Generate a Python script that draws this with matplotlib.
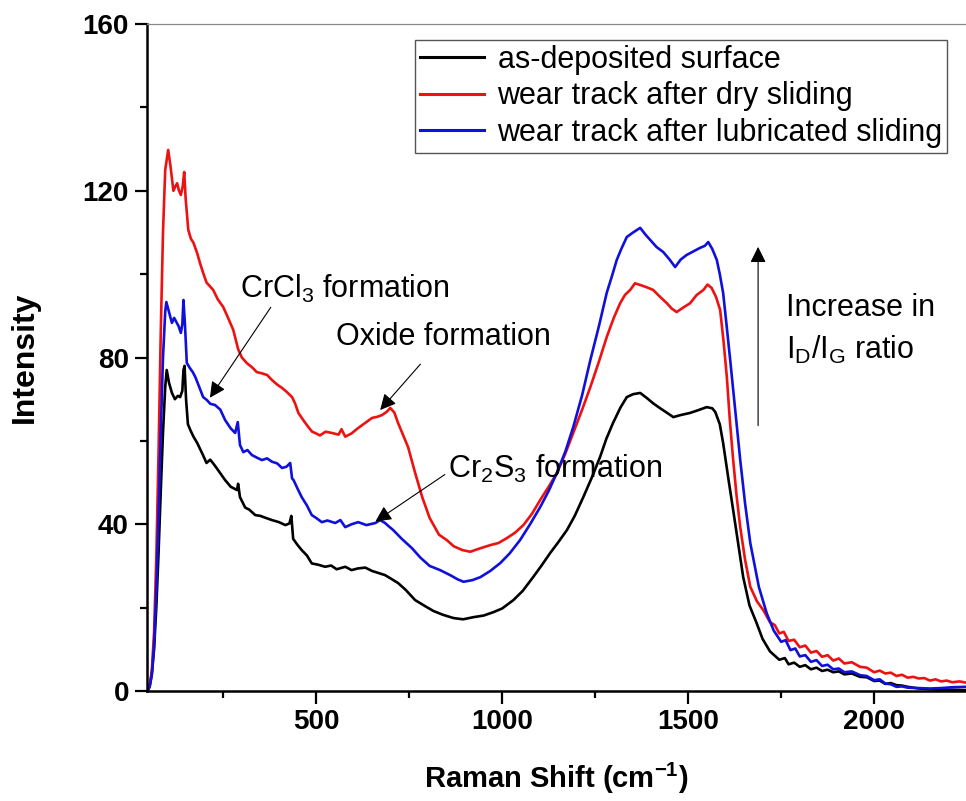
import numpy as np
import matplotlib
matplotlib.use("Agg")
import matplotlib.pyplot as plt
from matplotlib.ticker import MultipleLocator

plt.rcParams['font.family'] = ['Liberation Sans', 'DejaVu Sans']
plt.rcParams['mathtext.default'] = 'regular'

# as-deposited surface
x_dep = [46, 52, 58, 64, 70, 76, 82, 88, 94, 98, 104, 112, 120, 128, 134, 140, 143, 146, 150, 155,
         162, 170, 180, 188, 196, 205, 215, 228, 240, 255, 270, 287, 290, 295, 309, 320, 336, 350, 365, 381,
         400, 417, 428, 433, 438, 450, 461, 475, 488, 505, 524, 540, 555, 578, 595, 612, 632, 650, 668, 685,
         700, 720, 740, 766, 790, 815, 840, 869, 895, 922, 950, 976, 1000, 1030, 1055, 1083, 1105, 1129, 1150, 1174,
         1195, 1218, 1240, 1263, 1280, 1298, 1318, 1335, 1352, 1371, 1390, 1406, 1425, 1442, 1460, 1480, 1505, 1525, 1550, 1565,
         1573, 1585, 1594, 1608, 1621, 1635, 1648, 1665, 1684, 1700, 1720, 1745, 1760, 1770, 1785, 1800, 1815, 1830, 1845, 1860,
         1875, 1890, 1905, 1920, 1940, 1962, 1980, 2000, 2015, 2030, 2045, 2060, 2075, 2090, 2120, 2150, 2180, 2210, 2247]
y_dep = [0, 1, 4, 10, 20, 33, 48, 62, 73, 77, 74, 71.5, 70, 70.8, 70.5, 72, 77, 78, 70, 64,
         62.5, 61, 59.5, 58, 56.5, 54.7, 55.5, 54, 52.5, 50.6, 49, 48.2, 49.7, 46.5, 44, 43.5, 42.2, 42, 41.5, 41,
         40.5, 39.8, 40.2, 42, 36.5, 35, 33.8, 32.5, 30.6, 30.3, 29.8, 30.1, 29.2, 29.8, 29, 29.4, 29.6, 28.8, 28.3, 27.8,
         27, 25.9, 24.3, 21.8, 20.5, 19.2, 18.3, 17.5, 17.2, 17.7, 18.1, 18.9, 19.8, 21.8, 24, 27.3, 30, 33.1, 35.6, 38.6,
         42, 46.5, 51, 56.1, 60.5, 64.3, 68, 70.5, 71.2, 71.5, 70.2, 69, 67.8, 66.8, 65.7, 66.2, 66.7, 67.3, 68.1, 67.8,
         66.9, 64, 59.5, 51, 43.4, 35, 27.3, 20.5, 16.3, 12.5, 9.5, 7.5, 7.9, 6.4, 6.8, 5.8, 6.2, 5.2, 5.6, 4.8,
         5.1, 4.5, 4.7, 4, 4.2, 3.4, 3.3, 2.4, 2.5, 1.7, 1.9, 1.4, 1.3, 1, 0.6, 0.4, 0.3, 0.3, 0.2]

# wear track after dry sliding
x_dry = [46, 52, 58, 64, 70, 76, 82, 88, 94, 102, 108, 116, 121, 126, 131, 136, 141, 145, 149, 156,
         163, 170, 180, 188, 196, 205, 215, 223, 235, 250, 263, 277, 290, 300, 314, 327, 340, 354, 368, 381,
         395, 408, 420, 435, 443, 452, 465, 479, 489, 497, 510, 525, 542, 560, 568, 578, 595, 613, 630, 650,
         665, 677, 690, 699, 710, 720, 733, 747, 766, 785, 805, 830, 851, 870, 893, 914, 940, 968, 990, 1013,
         1035, 1057, 1080, 1102, 1125, 1147, 1170, 1191, 1215, 1237, 1260, 1281, 1300, 1317, 1330, 1344, 1357, 1371, 1390, 1406,
         1425, 1443, 1455, 1469, 1487, 1505, 1523, 1541, 1552, 1563, 1575, 1586, 1595, 1604, 1612, 1621, 1630, 1640, 1653, 1667,
         1685, 1702, 1720, 1733, 1745, 1757, 1770, 1785, 1800, 1815, 1830, 1845, 1860, 1875, 1890, 1905, 1920, 1940, 1962, 1980,
         2000, 2015, 2030, 2045, 2060, 2075, 2090, 2105, 2120, 2135, 2150, 2165, 2180, 2195, 2210, 2230, 2247]
y_dry = [0, 1.2, 5, 14, 32, 57, 86, 110, 125, 129.8, 126, 120, 121, 121.8, 120, 119, 121, 124.5, 118, 110.6,
         108.5, 107.5, 105, 102.5, 100.3, 98, 97, 96.2, 94, 92.1, 89.5, 86.6, 82, 80, 78.6, 77.7, 76.5, 76.2, 75.8, 74.6,
         73.5, 72.7, 71.8, 70.5, 69, 66.7, 65, 63.3, 62.2, 61.9, 61.3, 62.2, 61.9, 61.5, 62.8, 61, 61.8, 63.1, 64.2, 65.5,
         65.8, 66.2, 67, 67.9, 66.8, 64.3, 61.5, 58.5, 52.3, 46.5, 41.5, 37.5, 36.2, 34.7, 33.8, 33.4, 34.2, 35, 35.5, 36.7,
         38, 39.8, 42.5, 45.8, 49, 52.3, 57, 61.9, 67.5, 72.9, 79, 84.9, 89.5, 93, 95, 96.2, 97.8, 97.4, 96.8, 96.2,
         94.5, 93, 91.8, 90.9, 92, 93, 95, 96.2, 97.5, 96.7, 94.5, 91.4, 84, 75.3, 65, 55.4, 47, 39.3, 31.5, 25,
         21.5, 19.4, 16.5, 15.8, 13.8, 14.2, 12, 12.3, 10.5, 10.9, 9.2, 9.6, 8.2, 8.6, 7.3, 7.8, 6.6, 6.9, 5.8, 5.6,
         4.5, 4.9, 4.2, 4.4, 3.6, 3.9, 3.2, 3.4, 3.0, 3.1, 2.5, 2.8, 2.3, 2.5, 2.1, 2.3, 2.0]

# wear track after lubricated sliding
x_lub = [46, 52, 58, 64, 70, 76, 82, 88, 94, 97, 104, 112, 118, 125, 130, 136, 140, 143, 147, 152,
         160, 168, 175, 185, 196, 206, 215, 228, 242, 255, 270, 282, 289, 295, 304, 315, 327, 340, 354, 368,
         381, 395, 408, 420, 430, 435, 439, 450, 461, 475, 488, 500, 515, 530, 551, 565, 578, 595, 613, 635,
         659, 672, 685, 695, 707, 730, 757, 780, 805, 833, 860, 880, 896, 920, 941, 968, 995, 1020, 1048, 1075,
         1102, 1125, 1147, 1170, 1191, 1215, 1237, 1260, 1281, 1295, 1308, 1320, 1335, 1352, 1371, 1385, 1398, 1415, 1433, 1450,
         1465, 1480, 1496, 1515, 1532, 1545, 1554, 1565, 1577, 1585, 1594, 1603, 1613, 1627, 1640, 1653, 1667, 1690, 1711, 1730,
         1750, 1762, 1775, 1788, 1800, 1815, 1830, 1845, 1860, 1875, 1890, 1905, 1920, 1940, 1962, 1980, 2000, 2015, 2030, 2045,
         2060, 2075, 2090, 2120, 2150, 2180, 2210, 2247]
y_lub = [0, 1, 4, 11, 24, 42, 62, 80, 91, 93.3, 91, 88.3, 89.5, 88.3, 87.5, 85.9, 88, 93.8, 88, 78.7,
         77.5, 76.5, 75.3, 73, 70.5, 69.8, 68.9, 68.6, 67.5, 65, 63, 61.9, 64.5, 59, 57.3, 57.8, 56.6, 56, 55.4, 55.8,
         55, 54.6, 53.5, 53.8, 54.7, 51, 50.6, 48.5, 46.5, 44.5, 42.2, 41.5, 40.5, 40.9, 40.3, 41, 39.3, 40, 40.5, 39.8,
         40.3, 41, 40.3, 39.5, 38.6, 36.5, 34.3, 32, 30, 29, 27.8, 26.8, 26.2, 26.6, 27.3, 28.8, 30.7, 33, 36.2, 40,
         44.1, 48, 52.3, 57.5, 63.3, 71, 79.4, 87.5, 95.5, 99.5, 103.4, 106, 108.9, 110, 111.1, 109.5, 108.2, 106.5, 105.3, 103.5,
         101.7, 103.5, 104.6, 105.5, 106.3, 106.8, 107.7, 106, 103.4, 100, 95.5, 88, 79.4, 67, 55.4, 45, 35.5, 25, 18.7, 14.5,
         11.8, 12.2, 9.8, 10.2, 8.3, 8.6, 7, 7.4, 6, 6.3, 5.2, 5.4, 4.5, 4.7, 3.8, 3.6, 2.6, 2.8, 1.8, 1.6,
         1.0, 1.1, 0.8, 0.7, 0.6, 0.7, 0.9, 1.0]

series = [
    (x_dep, y_dep, 'black', 'as-deposited surface'),
    (x_dry, y_dry, '#ee1111', 'wear track after dry sliding'),
    (x_lub, y_lub, '#1010dd', 'wear track after lubricated sliding'),
]

fig = plt.figure(figsize=(9.66, 8.01), dpi=100)
ax = fig.add_axes([147 / 966, 110 / 801, 819 / 966, 667 / 801])

for xs, ys, c, lab in series:
    ax.plot(xs, ys, color=c, lw=1.9, label=lab)

ax.set_xlim(45, 2247)
ax.set_ylim(0, 160)
ax.xaxis.set_major_locator(MultipleLocator(500))
ax.xaxis.set_minor_locator(MultipleLocator(250))
ax.yaxis.set_major_locator(MultipleLocator(40))
ax.yaxis.set_minor_locator(MultipleLocator(20))

ax.spines['right'].set_visible(False)
ax.spines['top'].set_color('#888888')
ax.spines['top'].set_linewidth(0.9)
for s in ['left', 'bottom']:
    ax.spines[s].set_linewidth(1.8)

ax.tick_params(which='major', direction='out', length=9, width=1.6, labelsize=20, pad=4)
ax.tick_params(which='minor', direction='out', length=5, width=1.6)
ax.tick_params(top=False, right=False)
for t in ax.get_xticklabels() + ax.get_yticklabels():
    t.set_fontweight('bold')

ax.set_xlabel('Raman Shift (cm$^{-1}$)', fontsize=21, fontweight='bold')
ax.set_ylabel('Intensity', fontsize=23, fontweight='bold')
ax.xaxis.set_label_coords(0.5, -0.104)
ax.yaxis.set_label_coords(-0.131, 0.5)

leg = ax.legend(loc='upper left', bbox_to_anchor=(415 / 966, 1 - 40 / 801),
                bbox_transform=fig.transFigure, fontsize=22, frameon=True,
                fancybox=False, framealpha=1, edgecolor='#555555',
                handlelength=2.1, handletextpad=0.45, labelspacing=0.22,
                borderpad=0.15, borderaxespad=0)
leg.get_frame().set_linewidth(1.0)
for ln in leg.get_lines():
    ln.set_linewidth(2.2)

arrow = dict(arrowstyle='-|>', color='black', lw=0.8, mutation_scale=24)
ax.annotate('', xy=(210, 69.8), xytext=(382, 92.6), arrowprops=arrow)
ax.text(296, 96.4, 'CrCl$_3$ formation', fontsize=22, va='center', ha='left')
ax.annotate('', xy=(667, 66.9), xytext=(785, 78.9), arrowprops=arrow)
ax.text(554, 84.9, 'Oxide formation', fontsize=22, va='center', ha='left')
ax.annotate('', xy=(653, 40.3), xytext=(852, 52.3), arrowprops=arrow)
ax.text(855, 53.2, 'Cr$_2$S$_3$ formation', fontsize=22, va='center', ha='left')

ax.annotate('', xy=(1688, 107.2), xytext=(1688, 63), arrowprops=arrow)
ax.text(1763, 91.9, 'Increase in', fontsize=22, va='center', ha='left')
ax.text(1763, 81.8, 'I$_D$/I$_G$ ratio', fontsize=22, va='center', ha='left')

fig.savefig('out.png', dpi=100)
